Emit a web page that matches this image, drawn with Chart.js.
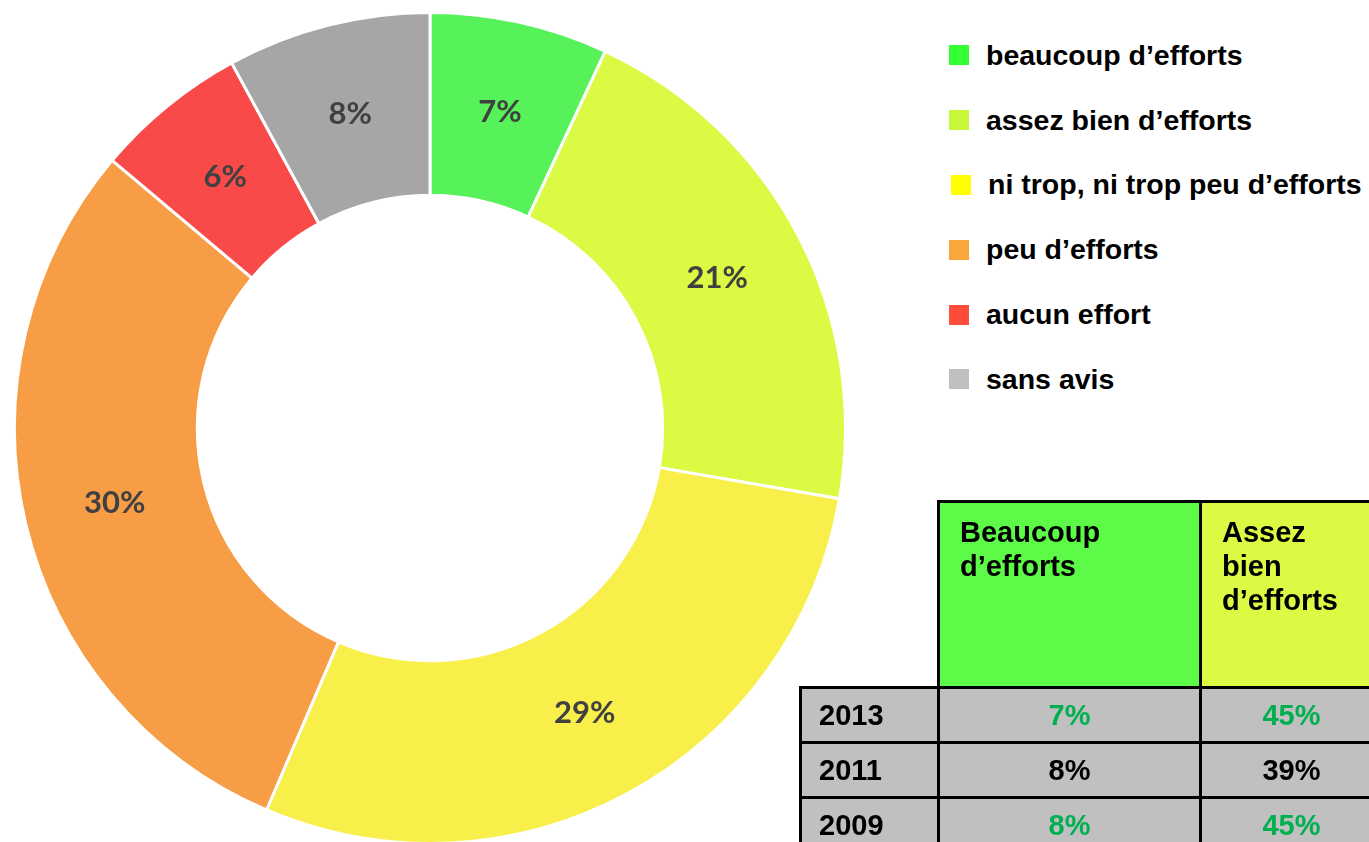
<!DOCTYPE html>
<html>
<head>
<meta charset="utf-8">
<script src="https://cdn.jsdelivr.net/npm/chart.js@4.4.0/dist/chart.umd.min.js"></script>
<style>
  html, body {
    margin: 0;
    padding: 0;
    width: 1369px;
    height: 842px;
    overflow: hidden;
    background: #fff;
    font-family: 'Liberation Sans', Arial, sans-serif;
  }
  #wrap {
    position: absolute;
    left: 0;
    top: 0;
    width: 860px;
    height: 860px;
  }
  #legend {
    position: absolute;
    left: 949px;
    top: 23px;
    margin: 0;
    padding: 0;
    list-style: none;
  }
  #legend li {
    height: 64.8px;
    display: flex;
    align-items: center;
    font-weight: bold;
    font-size: 28.5px;
    color: #000;
    white-space: nowrap;
  }
  #legend .box {
    width: 20px;
    height: 20px;
    margin-right: 17px;
    flex: none;
  }
  #legend li.shift .box {
    margin-left: 2px;
    margin-right: 17px;
  }
  #table {
    position: absolute;
    left: 799px;
    top: 500px;
    width: 582px;
    table-layout: fixed;
    border-collapse: collapse;
    font-weight: bold;
    font-size: 29px;
  }
  #table td {
    border: 3px solid #000;
    padding: 0;
  }
  #table td.blank {
    border: none;
    border-right: 3px solid #000;
    border-bottom: 3px solid #000;
  }
  #table td.head {
    vertical-align: top;
    padding: 12px 0 0 20px;
    white-space: pre-line;
    line-height: 34px;
    height: 171px;
  }
  #table td.year {
    background: #c0c0c0;
    padding-left: 17px;
    height: 52px;
  }
  #table td.val {
    background: #c0c0c0;
    text-align: center;
  }
  #table td.good { color: #00b050; }
</style>
</head>
<body>
<div id="wrap"><canvas id="chart" width="860" height="860"></canvas></div>
<ul id="legend"></ul>
<table id="table">
  <colgroup><col style="width:138px"><col style="width:262px"><col style="width:182px"></colgroup>
</table>
<script>
const categories = [
  'beaucoup d’efforts',
  'assez bien d’efforts',
  'ni trop, ni trop peu d’efforts',
  'peu d’efforts',
  'aucun effort',
  'sans avis',
];
const shares = [7, 21, 29, 30, 6, 8];
const sliceColors = ['#57f25a', '#dafa44', '#f8ef4a', '#f79d46', '#f94a4a', '#a6a6a6'];
const legendColors = ['#33ff33', '#c6f73a', '#ffff00', '#f9a73a', '#ff4b3a', '#bfbfbf'];

const tableHeaders = ['Beaucoup\nd’efforts', 'Assez\nbien\nd’efforts'];
const tableHeaderColors = ['#5dfa48', '#ddf944'];
const tableYears = ['2013', '2011', '2009'];
const tableBeaucoup = ['7%', '8%', '8%'];
const tableAssez = ['45%', '39%', '45%'];
const tableRise = [true, false, true];

// percent labels in the middle of each ring slice
const sliceLabels = {
  id: 'sliceLabels',
  afterDatasetsDraw(chart) {
    const { ctx } = chart;
    const meta = chart.getDatasetMeta(0);
    ctx.save();
    ctx.font = 'bold 31px Lato, "Open Sans", sans-serif';
    ctx.fillStyle = '#404040';
    ctx.textAlign = 'center';
    ctx.textBaseline = 'middle';
    meta.data.forEach((arc, i) => {
      const { x, y } = arc.tooltipPosition();
      ctx.fillText(shares[i] + '%', x, y);
    });
    ctx.restore();
  },
};

new Chart(document.getElementById('chart'), {
  type: 'doughnut',
  data: {
    labels: categories,
    datasets: [
      {
        data: shares,
        backgroundColor: sliceColors,
        borderColor: '#ffffff',
        borderWidth: 3,
        hoverOffset: 0,
      },
    ],
  },
  options: {
    responsive: false,
    animation: false,
    cutout: '56%',
    layout: {
      padding: { left: 13, right: 13, top: 11, bottom: 15 },
    },
    plugins: {
      legend: { display: false },
      tooltip: { enabled: false },
    },
  },
  plugins: [sliceLabels],
});

const legend = document.getElementById('legend');
categories.forEach((name, i) => {
  const li = document.createElement('li');
  if (i === 2) li.className = 'shift';
  const box = document.createElement('span');
  box.className = 'box';
  box.style.background = legendColors[i];
  li.appendChild(box);
  li.appendChild(document.createTextNode(name));
  legend.appendChild(li);
});

const table = document.getElementById('table');
let row = table.insertRow();
let cell = row.insertCell();
cell.className = 'blank';
tableHeaders.forEach((h, i) => {
  cell = row.insertCell();
  cell.className = 'head';
  cell.textContent = h;
  cell.style.background = tableHeaderColors[i];
});
tableYears.forEach((year, i) => {
  row = table.insertRow();
  cell = row.insertCell();
  cell.className = 'year';
  cell.textContent = year;
  [tableBeaucoup[i], tableAssez[i]].forEach((v) => {
    cell = row.insertCell();
    cell.className = 'val' + (tableRise[i] ? ' good' : '');
    cell.textContent = v;
  });
});
</script>
</body>
</html>
